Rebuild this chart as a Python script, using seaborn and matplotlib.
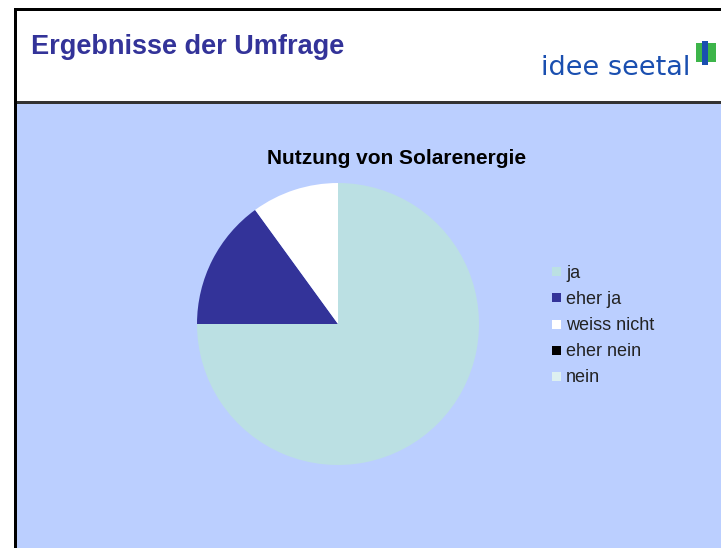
import matplotlib
matplotlib.use("Agg")
import matplotlib.pyplot as plt
import matplotlib.patches as mpatches
import seaborn as sns

# ---- data ----
categories = ["ja", "eher ja", "weiss nicht", "eher nein", "nein"]
values = [75, 15, 10, 0, 0]
colors = ["#BBE0E3", "#333399", "#FFFFFF", "#000000", "#DDF0F0"]

chart_title = "Nutzung von Solarenergie"
page_title = "Ergebnisse der Umfrage"
logo_text = "idee seetal"

sns.set_style("white")
plt.rcParams["font.family"] = ["Liberation Sans", "DejaVu Sans"]

W, H = 721, 548
fig = plt.figure(figsize=(W / 100, H / 100), dpi=100)
fig.patch.set_facecolor("white")

# background / frame layer in pixel coords
bg = fig.add_axes([0, 0, 1, 1])
bg.set_xlim(0, W)
bg.set_ylim(H, 0)
bg.axis("off")
bg.add_patch(mpatches.Rectangle((17, 104), W - 17, H - 104, color="#BBCFFF", lw=0))
bg.add_patch(mpatches.Rectangle((14, 8), W - 14, 3, color="black", lw=0))
bg.add_patch(mpatches.Rectangle((14, 8), 3, H - 8, color="black", lw=0))
bg.add_patch(mpatches.Rectangle((17, 101), W - 17, 3, color="#333333", lw=0))

bg.text(31, 47, page_title, color="#333399", fontsize=19.5, fontweight="bold",
        va="center", ha="left")
bg.text(690, 68, logo_text, color="#1A4FB0", fontsize=19.5, va="center", ha="right",
        family=["DejaVu Sans"])
# small logo mark
bg.add_patch(mpatches.Rectangle((696, 43), 20, 19, color="#3DB54A", lw=0))
bg.add_patch(mpatches.Rectangle((702, 41), 6, 24, color="#1A4FB0", lw=0))

bg.text(397, 159, chart_title, color="black", fontsize=15, fontweight="bold",
        va="center", ha="center")

# ---- pie ----
cx, cy, r = 338, 324, 141
ax = fig.add_axes([(cx - r) / W, (H - cy - r) / H, 2 * r / W, 2 * r / H])
ax.pie(values, colors=colors, startangle=90, counterclock=False,
       wedgeprops={"linewidth": 0}, radius=1)
ax.set_xlim(-1, 1)
ax.set_ylim(-1, 1)
ax.set_aspect("equal")
ax.axis("off")

# ---- legend ----
leg_y = [272, 298, 325, 351, 377]
for lab, col, y in zip(categories, colors, leg_y):
    bg.add_patch(mpatches.Rectangle((552, y - 5), 9, 9, color=col, lw=0))
    bg.text(566, y + 1, lab, color="#222222", fontsize=13, va="center", ha="left")

fig.savefig("out.png", dpi=100)
